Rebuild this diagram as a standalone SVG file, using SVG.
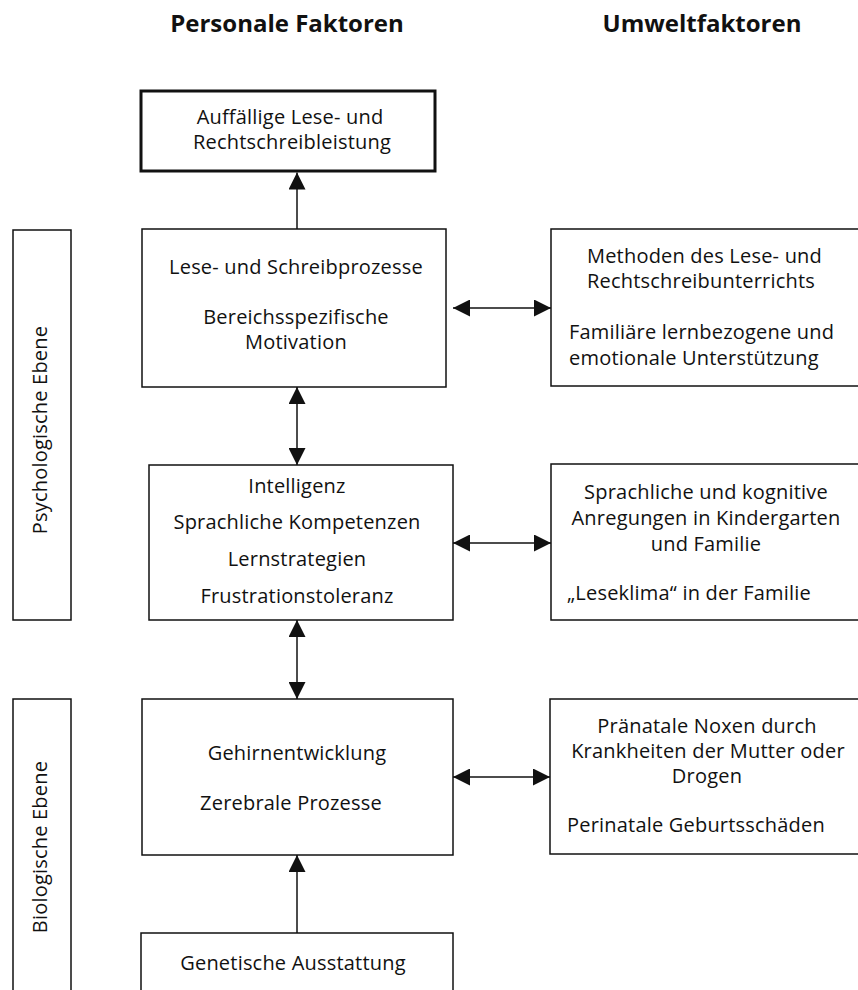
<svg xmlns="http://www.w3.org/2000/svg" width="858" height="990" viewBox="0 0 858 990">
<style>
  .box { fill: #fff; stroke: #111; stroke-width: 1.5; }
  .thick { stroke-width: 3; }
  .t { font-family: "Open Sans", "Noto Sans", "DejaVu Sans", sans-serif; font-size: 20px; letter-spacing: 0.2px; fill: #111; }
  .c { text-anchor: middle; }
  .s { text-anchor: start; }
  .h { font-family: "Open Sans", "Noto Sans", "DejaVu Sans", sans-serif; font-size: 24px; font-weight: bold; fill: #111; text-anchor: middle; }
  .con { stroke: #111; stroke-width: 1.5; fill: none; }
</style>
<defs>
  <marker id="ah" viewBox="0 0 16 16" refX="16" refY="8" markerWidth="17" markerHeight="17" markerUnits="userSpaceOnUse" orient="auto-start-reverse">
    <path d="M0,0 L16,8 L0,16 z" fill="#111"/>
  </marker>
</defs>
<rect width="858" height="990" fill="#fff"/>

<g id="titles">
  <text class="h" x="287" y="32">Personale Faktoren</text>
  <text class="h" x="702" y="32">Umweltfaktoren</text>
</g>

<g id="label-psych">
  <rect class="box" x="13" y="230" width="58" height="390"/>
  <text class="t c" transform="translate(47,430) rotate(-90)">Psychologische Ebene</text>
</g>
<g id="label-bio">
  <rect class="box" x="13" y="699" width="58" height="310"/>
  <text class="t c" transform="translate(47,847) rotate(-90)">Biologische Ebene</text>
</g>

<g id="node-leistung">
  <rect class="box thick" x="141" y="91" width="294" height="80"/>
  <text class="t c" x="290" y="124">Auffällige Lese- und</text>
  <text class="t c" x="292" y="149">Rechtschreibleistung</text>
</g>

<g id="node-prozesse">
  <rect class="box" x="142" y="229" width="304" height="158"/>
  <text class="t c" x="296" y="274">Lese- und Schreibprozesse</text>
  <text class="t c" x="296" y="324">Bereichsspezifische</text>
  <text class="t c" x="296" y="349">Motivation</text>
</g>

<g id="node-intelligenz">
  <rect class="box" x="149" y="465" width="304" height="155"/>
  <text class="t c" x="297" y="493">Intelligenz</text>
  <text class="t c" x="297" y="529">Sprachliche Kompetenzen</text>
  <text class="t c" x="297" y="566">Lernstrategien</text>
  <text class="t c" x="297" y="603">Frustrationstoleranz</text>
</g>

<g id="node-gehirn">
  <rect class="box" x="142" y="699" width="311" height="156"/>
  <text class="t c" x="297" y="760">Gehirnentwicklung</text>
  <text class="t c" x="291" y="810">Zerebrale Prozesse</text>
</g>

<g id="node-genetik">
  <rect class="box" x="141" y="933" width="312" height="80"/>
  <text class="t c" x="293" y="970">Genetische Ausstattung</text>
</g>

<g id="node-unterricht">
  <rect class="box" x="551" y="229" width="320" height="157"/>
  <text class="t s" x="587" y="263">Methoden des Lese- und</text>
  <text class="t s" x="587" y="288">Rechtschreibunterrichts</text>
  <text class="t s" x="569" y="339">Familiäre lernbezogene und</text>
  <text class="t s" x="569" y="365">emotionale Unterstützung</text>
</g>

<g id="node-anregungen">
  <rect class="box" x="551" y="464" width="320" height="156"/>
  <text class="t c" x="706" y="499">Sprachliche und kognitive</text>
  <text class="t c" x="706" y="525">Anregungen in Kindergarten</text>
  <text class="t c" x="706" y="551">und Familie</text>
  <text class="t s" x="567" y="600">„Leseklima“ in der Familie</text>
</g>

<g id="node-noxen">
  <rect class="box" x="550" y="699" width="321" height="155"/>
  <text class="t c" x="707" y="733">Pränatale Noxen durch</text>
  <text class="t c" x="708" y="758">Krankheiten der Mutter oder</text>
  <text class="t c" x="707" y="783">Drogen</text>
  <text class="t s" x="567" y="832">Perinatale Geburtsschäden</text>
</g>

<g id="connectors">
  <line class="con" x1="297" y1="229" x2="297" y2="172.5" marker-end="url(#ah)"/>
  <line class="con" x1="297" y1="387" x2="297" y2="465" marker-start="url(#ah)" marker-end="url(#ah)"/>
  <line class="con" x1="297" y1="620" x2="297" y2="699" marker-start="url(#ah)" marker-end="url(#ah)"/>
  <line class="con" x1="297" y1="933" x2="297" y2="855" marker-end="url(#ah)"/>
  <line class="con" x1="453" y1="308" x2="551" y2="308" marker-start="url(#ah)" marker-end="url(#ah)"/>
  <line class="con" x1="453" y1="543" x2="551" y2="543" marker-start="url(#ah)" marker-end="url(#ah)"/>
  <line class="con" x1="453" y1="777" x2="550" y2="777" marker-start="url(#ah)" marker-end="url(#ah)"/>
</g>
</svg>
